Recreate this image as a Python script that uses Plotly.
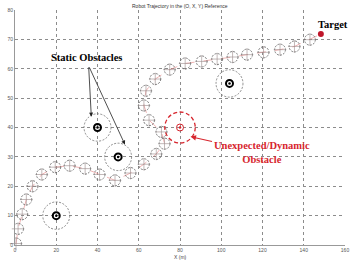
import plotly.graph_objects as go

# ---- data ----
traj_x = [0.5, 1.5, 3.5, 5.5, 8.5, 13, 19.5, 26.5, 34, 41, 48.5, 56, 62.5, 68.5, 72.5,
          71, 65, 62.5, 63.5, 68, 75, 82.5, 90.5, 98, 105.5, 112.5, 120.5, 128.5, 135.5, 143]
traj_y = [0.5, 5.5, 10.5, 15.5, 20, 24, 26.5, 27, 26, 24, 22, 24.5, 27.5, 31, 34.5,
          38.5, 42.5, 47.5, 52.5, 56.5, 59.7, 61.8, 62.5, 63.3, 64, 64.8, 65.6, 66.5, 67.6, 69.9]
static_x = [20, 40, 50, 104]
static_y = [10, 40, 30, 55]
dyn_x = [80]
dyn_y = [40]
target_x = [148.3]
target_y = [71.8]
x_ticks = [0, 20, 40, 60, 80, 100, 120, 140, 160]
y_ticks = [0, 10, 20, 30, 40, 50, 60, 70, 80]

W, H = 356, 261
ML, MR, MT, MB = 13, 7, 10, 16
XR = [0, 160]
YR = [0, 80]
pxx = (W - ML - MR) / (XR[1] - XR[0])
pxy = (H - MT - MB) / (YR[1] - YR[0])

RED = "#d7262e"
GRAY = "#6e6e6e"

fig = go.Figure()

shapes = []
def circ(cx, cy, rpx, color, width, dash):
    rx, ry = rpx / pxx, rpx / pxy
    return dict(type="circle", xref="x", yref="y", x0=cx - rx, x1=cx + rx,
                y0=cy - ry, y1=cy + ry, line=dict(color=color, width=width, dash=dash),
                layer="above")

for cx, cy in zip(traj_x, traj_y):
    shapes.append(circ(cx, cy, 5.5, GRAY, 0.9, "2px,1.2px"))
for cx, cy in zip(static_x, static_y):
    shapes.append(circ(cx, cy, 13.7, "#6e6e6e", 0.8, "2px,1.5px"))
for cx, cy in zip(dyn_x, dyn_y):
    shapes.append(circ(cx, cy, 15.5, RED, 1.3, "4px,2.5px"))

# trajectory line
fig.add_trace(go.Scatter(x=traj_x + target_x, y=traj_y + target_y, mode="lines",
                         line=dict(color="#e58080", width=0.6, dash="dash"),
                         hoverinfo="skip", showlegend=False))
# crosses inside trajectory circles
fig.add_trace(go.Scatter(x=traj_x, y=traj_y, mode="markers",
                         marker=dict(symbol="cross-thin-open", size=9, color="#9a8a8a",
                                     line=dict(color="#a08888", width=0.6)),
                         cliponaxis=False, showlegend=False))
# static obstacles
fig.add_trace(go.Scatter(x=static_x, y=static_y, mode="markers",
                         marker=dict(symbol="circle-open", size=7, color="black",
                                     line=dict(color="black", width=2)),
                         showlegend=False))
fig.add_trace(go.Scatter(x=static_x, y=static_y, mode="markers",
                         marker=dict(symbol="circle", size=2.5, color="black",
                                     line=dict(width=0)),
                         showlegend=False))
# dynamic obstacle
fig.add_trace(go.Scatter(x=dyn_x, y=dyn_y, mode="markers",
                         marker=dict(symbol="circle-open", size=7, color=RED,
                                     line=dict(color=RED, width=1)),
                         showlegend=False))
fig.add_trace(go.Scatter(x=dyn_x, y=dyn_y, mode="markers",
                         marker=dict(symbol="circle", size=2.5, color=RED,
                                     line=dict(width=0)),
                         showlegend=False))
# target
fig.add_trace(go.Scatter(x=target_x, y=target_y, mode="markers",
                         marker=dict(symbol="circle", size=6, color="#c0162a",
                                     line=dict(width=0)),
                         cliponaxis=False, showlegend=False))

SERIF = "Liberation Serif"
annotations = [
    dict(x=34.5, y=64, xref="x", yref="y", text="<b>Static Obstacles</b>", showarrow=False,
         font=dict(family=SERIF, size=10.5, color="black")),
    dict(x=37, y=43.7, ax=35.7, ay=61, xref="x", yref="y", axref="x", ayref="y", text="",
         showarrow=True, arrowhead=2, arrowsize=1, arrowwidth=0.8, arrowcolor="#222"),
    dict(x=53.3, y=34.2, ax=35.7, ay=61, xref="x", yref="y", axref="x", ayref="y", text="",
         showarrow=True, arrowhead=2, arrowsize=1, arrowwidth=0.8, arrowcolor="#222"),
    dict(x=154, y=75, xref="x", yref="y", text="<b>Target</b>", showarrow=False,
         font=dict(family=SERIF, size=10.5, color="black")),
    dict(x=85.1, y=36.9, ax=71, ay=16, xref="x", yref="y",
         text="<b>Unexpected/Dynamic<br>Obstacle</b>",
         showarrow=True, arrowhead=2, arrowsize=1, arrowwidth=1.1, arrowcolor=RED,
         font=dict(family=SERIF, size=10.5, color=RED)),
    dict(x=0.5, y=1, xref="paper", yref="paper", yshift=9, text="Robot Trajectory in the (O, X, Y) Reference",
         showarrow=False, font=dict(family="Liberation Sans, Arial", size=5, color="#333")),
    dict(x=0.5, y=0, xref="paper", yref="paper", yshift=-16, text="X (m)", yanchor="bottom",
         borderpad=0, showarrow=False,
         font=dict(family="Liberation Sans, Arial", size=5, color="#444")),
]

axis_common = dict(showgrid=True, gridcolor="#8c8c8c", griddash="dot", gridwidth=0.7,
                   zeroline=False, showline=True, linecolor="#999", linewidth=1,
                   ticks="", tickfont=dict(family="Liberation Sans, Arial", size=5, color="#555"))

fig.update_layout(
    width=W, height=H, margin=dict(l=ML, r=MR, t=MT, b=MB),
    paper_bgcolor="white", plot_bgcolor="white",
    xaxis=dict(range=XR, tickvals=x_ticks, **axis_common),
    yaxis=dict(range=YR, tickvals=y_ticks, **axis_common),
    shapes=shapes, annotations=annotations, showlegend=False,
)

fig.write_html("out.html")
